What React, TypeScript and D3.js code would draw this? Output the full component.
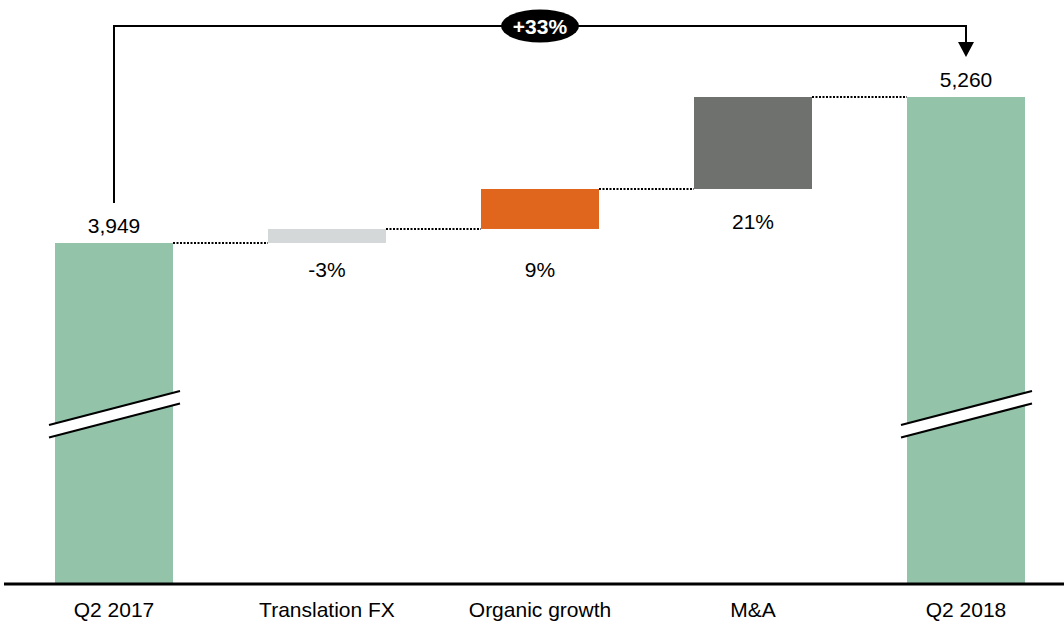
import React from "react";
import * as d3 from "d3";

const categories = ["Q2 2017", "Translation FX", "Organic growth", "M&A", "Q2 2018"];
const startValue = 3949;
const endValue = 5260;
const stepDeltas = [126, 359, 826];
const valueLabels = ["3,949", "-3%", "9%", "21%", "5,260"];
const totalChange = "+33%";
const colors = ["#93C4AA", "#D5D8D8", "#E0661E", "#6F716F", "#93C4AA"];

const W = 1064;
const H = 621;
const baseY = 583;

export default function App() {
  const x = d3.scalePoint<string>().domain(categories).range([114, 966]);
  const bw = 118;
  const y = d3.scaleLinear().domain([startValue, endValue]).range([243, 97]);

  type Bar = { cat: string; y0: number; y1: number; color: string; total: boolean };
  const bars: Bar[] = [];
  bars.push({ cat: categories[0], y0: baseY, y1: y(startValue), color: colors[0], total: true });
  let cum = startValue;
  stepDeltas.forEach((d, i) => {
    const a = cum;
    cum += d;
    bars.push({ cat: categories[i + 1], y0: y(a), y1: y(cum), color: colors[i + 1], total: false });
  });
  bars.push({ cat: categories[4], y0: baseY, y1: y(endValue), color: colors[4], total: true });

  // label baselines
  const labelY = [
    y(startValue) - 10,
    y(startValue) + 34,
    y(startValue) + 34,
    bars[3].y0 + 40,
    y(endValue) - 10,
  ];

  const font = "'Liberation Sans', Arial, sans-serif";
  const cx0 = x(categories[0])!;
  const cx4 = x(categories[4])!;

  return (
    <svg width={W} height={H} style={{ position: "absolute", left: 0, top: 0, background: "#fff" }} fontFamily={font}>
      {bars.map((b, i) => {
        const cx = x(b.cat)!;
        const top = Math.min(b.y0, b.y1);
        const h = Math.abs(b.y0 - b.y1);
        return <rect key={"b" + i} x={cx - bw / 2} y={top} width={bw} height={h} fill={b.color} />;
      })}
      {bars.slice(0, 4).map((b, i) => {
        const nb = bars[i + 1];
        const yy = b.y1;
        return (
          <line
            key={"c" + i}
            x1={x(b.cat)! + bw / 2}
            x2={x(nb.cat)! - bw / 2}
            y1={yy}
            y2={yy}
            stroke="#000"
            strokeWidth={2}
            strokeDasharray="2,1.5"
          />
        );
      })}
      {[0, 4].map((i) => {
        const cx = x(categories[i])!;
        const lx = cx - bw / 2 - 6;
        const rx = cx + bw / 2 + 7;
        const lt = baseY - 158;
        const rt = baseY - 192;
        const g = 12.5;
        return (
          <g key={"br" + i}>
            <polygon points={`${lx},${lt} ${rx},${rt} ${rx},${rt + g} ${lx},${lt + g}`} fill="#fff" />
            <line x1={lx} y1={lt} x2={rx} y2={rt} stroke="#000" strokeWidth={2} />
            <line x1={lx} y1={lt + g} x2={rx} y2={rt + g} stroke="#000" strokeWidth={2} />
          </g>
        );
      })}
      <line x1={4} x2={W} y1={baseY + 1} y2={baseY + 1} stroke="#000" strokeWidth={3} />
      {categories.map((c, i) => (
        <text key={"t" + i} x={x(c)!} y={617} textAnchor="middle" fontSize={21} fill="#000">
          {c}
        </text>
      ))}
      {valueLabels.map((l, i) => (
        <text key={"v" + i} x={x(categories[i])!} y={labelY[i]} textAnchor="middle" fontSize={21} fill="#000">
          {l}
        </text>
      ))}
      <path
        d={`M${cx0},203 L${cx0},26 L${cx4},26 L${cx4},43`}
        fill="none"
        stroke="#000"
        strokeWidth={2}
      />
      <polygon points={`${cx4 - 8},42 ${cx4 + 8},42 ${cx4},57`} fill="#000" />
      <ellipse cx={(cx0 + cx4) / 2} cy={26} rx={39} ry={16.5} fill="#000" />
      <text x={(cx0 + cx4) / 2} y={33.5} textAnchor="middle" fontSize={21} fontWeight="bold" fill="#fff">
        {totalChange}
      </text>
    </svg>
  );
}
